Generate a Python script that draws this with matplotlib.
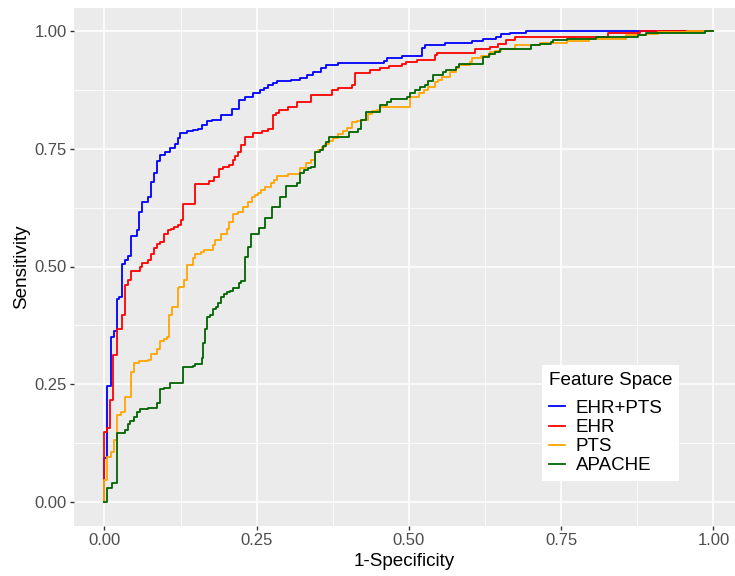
import matplotlib
matplotlib.use("Agg")
import matplotlib.pyplot as plt
from matplotlib.ticker import MultipleLocator

plt.rcParams['font.family'] = ['Liberation Sans', 'DejaVu Sans']

# ROC step vertices (false positive rate, true positive rate)
ehr_pts_fpr = [0, 0, 0.005, 0.010, 0.015, 0.020, 0.024, 0.029, 0.034, 0.039, 0.043, 0.053, 0.057,
               0.062, 0.072, 0.076, 0.082, 0.086, 0.091, 0.100, 0.107, 0.116, 0.120, 0.124, 0.135,
               0.145, 0.154, 0.160, 0.169, 0.177, 0.191, 0.209, 0.221, 0.231, 0.244, 0.255, 0.262,
               0.269, 0.276, 0.283, 0.307, 0.321, 0.332, 0.343, 0.355, 0.364, 0.383, 0.459, 0.464,
               0.488, 0.521, 0.526, 0.559, 0.603, 0.622, 0.643, 0.651, 0.666, 0.693, 1.0]
ehr_pts_tpr = [0, 0.093, 0.247, 0.350, 0.364, 0.431, 0.436, 0.505, 0.514, 0.522, 0.565, 0.577, 0.616,
               0.638, 0.647, 0.680, 0.698, 0.723, 0.737, 0.744, 0.752, 0.760, 0.772, 0.783, 0.787,
               0.790, 0.793, 0.801, 0.809, 0.812, 0.822, 0.834, 0.854, 0.861, 0.869, 0.874, 0.879,
               0.885, 0.890, 0.894, 0.897, 0.901, 0.907, 0.914, 0.921, 0.928, 0.933, 0.937, 0.942,
               0.947, 0.965, 0.970, 0.974, 0.978, 0.983, 0.988, 0.994, 0.996, 1.0, 1.0]

ehr_fpr = [0, 0, 0.005, 0.009, 0.014, 0.020, 0.029, 0.034, 0.039, 0.044, 0.058, 0.062, 0.072, 0.076,
           0.082, 0.086, 0.091, 0.097, 0.105, 0.110, 0.115, 0.121, 0.126, 0.129, 0.149, 0.172, 0.180,
           0.188, 0.195, 0.205, 0.211, 0.215, 0.220, 0.225, 0.231, 0.244, 0.258, 0.269, 0.277, 0.281,
           0.287, 0.302, 0.316, 0.340, 0.373, 0.384, 0.407, 0.411, 0.436, 0.452, 0.468, 0.488, 0.495,
           0.513, 0.543, 0.546, 0.608, 0.633, 0.647, 0.660, 0.674, 0.827, 0.879, 1.0]
ehr_tpr = [0, 0.149, 0.158, 0.217, 0.312, 0.367, 0.397, 0.461, 0.471, 0.491, 0.500, 0.508, 0.514, 0.527,
           0.539, 0.548, 0.553, 0.569, 0.577, 0.580, 0.584, 0.588, 0.599, 0.633, 0.675, 0.682, 0.690,
           0.706, 0.712, 0.716, 0.726, 0.735, 0.743, 0.758, 0.774, 0.783, 0.787, 0.791, 0.822, 0.827,
           0.832, 0.839, 0.850, 0.864, 0.875, 0.880, 0.885, 0.910, 0.917, 0.921, 0.926, 0.930, 0.934,
           0.938, 0.949, 0.954, 0.961, 0.967, 0.972, 0.981, 0.988, 0.996, 1.0, 1.0]

pts_fpr = [0, 0, 0.005, 0.011, 0.015, 0.020, 0.028, 0.034, 0.044, 0.049, 0.056, 0.072, 0.076, 0.086,
           0.091, 0.097, 0.102, 0.106, 0.111, 0.120, 0.123, 0.131, 0.135, 0.145, 0.149, 0.158, 0.164,
           0.179, 0.182, 0.191, 0.201, 0.205, 0.211, 0.220, 0.227, 0.236, 0.242, 0.248, 0.252, 0.257,
           0.263, 0.273, 0.278, 0.283, 0.302, 0.321, 0.331, 0.340, 0.346, 0.351, 0.357, 0.362, 0.368,
           0.376, 0.384, 0.392, 0.398, 0.406, 0.414, 0.422, 0.433, 0.440, 0.448, 0.452, 0.502, 0.507,
           0.516, 0.525, 0.531, 0.543, 0.548, 0.554, 0.567, 0.577, 0.583, 0.600, 0.604, 0.619, 0.633,
           0.641, 0.652, 0.674, 0.715, 0.759, 0.795, 0.856, 0.890, 0.909, 0.956, 1.0]
pts_tpr = [0, 0.047, 0.096, 0.107, 0.132, 0.185, 0.190, 0.222, 0.277, 0.296, 0.300, 0.302, 0.314, 0.324,
           0.342, 0.347, 0.351, 0.397, 0.415, 0.454, 0.457, 0.471, 0.503, 0.517, 0.527, 0.530, 0.535,
           0.546, 0.556, 0.569, 0.580, 0.595, 0.611, 0.616, 0.626, 0.638, 0.647, 0.652, 0.657, 0.662,
           0.668, 0.677, 0.684, 0.692, 0.696, 0.710, 0.719, 0.726, 0.744, 0.747, 0.753, 0.760, 0.766,
           0.773, 0.781, 0.788, 0.795, 0.807, 0.810, 0.812, 0.824, 0.831, 0.833, 0.839, 0.859, 0.861,
           0.868, 0.875, 0.882, 0.892, 0.896, 0.903, 0.914, 0.921, 0.928, 0.935, 0.942, 0.947, 0.955,
           0.958, 0.962, 0.970, 0.975, 0.979, 0.984, 0.991, 0.994, 0.997, 1.0, 1.0]

apache_fpr = [0, 0.005, 0.012, 0.020, 0.034, 0.038, 0.042, 0.049, 0.053, 0.058, 0.072, 0.086, 0.091,
              0.097, 0.108, 0.129, 0.145, 0.149, 0.160, 0.162, 0.165, 0.168, 0.173, 0.178, 0.183, 0.187,
              0.192, 0.197, 0.202, 0.206, 0.211, 0.221, 0.225, 0.231, 0.235, 0.240, 0.254, 0.264, 0.275,
              0.288, 0.298, 0.317, 0.321, 0.327, 0.334, 0.340, 0.345, 0.354, 0.359, 0.364, 0.369, 0.402,
              0.416, 0.421, 0.430, 0.452, 0.464, 0.470, 0.497, 0.502, 0.510, 0.518, 0.526, 0.531, 0.540,
              0.556, 0.561, 0.572, 0.577, 0.583, 0.586, 0.622, 0.632, 0.641, 0.649, 0.701, 0.715, 0.734,
              0.737, 0.759, 0.808, 0.877, 0.890, 0.986, 1.0]
apache_tpr = [0, 0.029, 0.041, 0.146, 0.153, 0.166, 0.172, 0.180, 0.190, 0.197, 0.199, 0.211, 0.239,
              0.243, 0.252, 0.286, 0.289, 0.294, 0.305, 0.338, 0.367, 0.392, 0.397, 0.410, 0.414, 0.423,
              0.436, 0.441, 0.445, 0.449, 0.454, 0.466, 0.470, 0.521, 0.542, 0.569, 0.582, 0.604, 0.627,
              0.648, 0.671, 0.677, 0.698, 0.705, 0.709, 0.712, 0.744, 0.748, 0.755, 0.765, 0.774, 0.786,
              0.793, 0.811, 0.829, 0.843, 0.849, 0.856, 0.861, 0.868, 0.875, 0.882, 0.885, 0.894, 0.906,
              0.914, 0.917, 0.918, 0.924, 0.929, 0.931, 0.945, 0.952, 0.956, 0.962, 0.970, 0.973, 0.977,
              0.980, 0.983, 0.988, 0.991, 0.995, 1.0, 1.0]

series = [("EHR+PTS", ehr_pts_fpr, ehr_pts_tpr, "blue"),
          ("EHR", ehr_fpr, ehr_tpr, "red"),
          ("PTS", pts_fpr, pts_tpr, "orange"),
          ("APACHE", apache_fpr, apache_tpr, "darkgreen")]

W, H = 735, 576
fig = plt.figure(figsize=(W / 100, H / 100), dpi=100)
# panel: x from -0.05 .. 1.035, y from -0.05 .. 1.05
ax = fig.add_axes([74 / W, 1 - 525.5 / H, (W - 74) / W, (525.5 - 7.5) / H])
ax.set_facecolor("#EBEBEB")
for s in ax.spines.values():
    s.set_visible(False)

for name, fpr, tpr, col in series:
    ax.plot(fpr, tpr, drawstyle="steps-post", color=col, lw=1.3, label=name)

ax.set_xlim(-0.05, 1.0355)
ax.set_ylim(-0.05, 1.05)
for axis in (ax.xaxis, ax.yaxis):
    axis.set_major_locator(MultipleLocator(0.25))
    axis.set_minor_locator(MultipleLocator(0.125))
ax.grid(which="major", color="white", lw=1.1)
ax.grid(which="minor", color="white", lw=0.55)
ax.set_axisbelow(True)
ax.xaxis.set_major_formatter(lambda v, p: f"{v:.2f}")
ax.yaxis.set_major_formatter(lambda v, p: f"{v:.2f}")
ax.tick_params(which="major", length=2.7, width=1.0, color="#333333",
               labelcolor="#4D4D4D", labelsize=12, pad=2.5)
ax.tick_params(which="minor", length=0)

ax.set_xlabel("1-Specificity", fontsize=13.6, color="black", labelpad=4)
ax.set_ylabel("Sensitivity", fontsize=13.6, color="black", labelpad=3)

leg = ax.legend(title="Feature Space", loc="lower left",
                bbox_to_anchor=(542 / W, 1 - 481 / H), bbox_transform=fig.transFigure,
                frameon=True, fancybox=False, facecolor="white", framealpha=1,
                fontsize=13.5, title_fontsize=13.6, handlelength=0.9, handletextpad=0.55,
                labelspacing=0.11, borderpad=0.35, borderaxespad=0, alignment="left")
leg.get_frame().set_linewidth(0)
leg._legend_box.sep = 8  # extra gap under the legend title

fig.savefig("out.png", dpi=100)
